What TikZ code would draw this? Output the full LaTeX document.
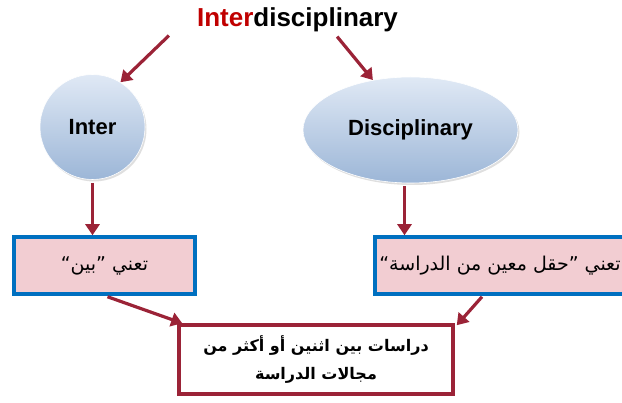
\documentclass[tikz,border=0pt]{standalone}
\usepackage{fontspec}
\setmainfont{Liberation Sans}
\newfontfamily\arabicfont[Script=Arabic]{DejaVu Sans}
\TeXXeTstate=1
\usetikzlibrary{arrows.meta,shapes.geometric,shadows}
\usepackage{xcolor}
\definecolor{arrowred}{RGB}{155,35,55}
\definecolor{interred}{RGB}{192,0,0}
\definecolor{boxblue}{RGB}{0,112,192}
\definecolor{boxpink}{RGB}{242,205,210}
\definecolor{ovaltop}{RGB}{224,233,245}
\definecolor{ovalbottom}{RGB}{156,182,215}

\begin{document}
\begin{tikzpicture}[x=1pt, y=-1pt,
  arr/.style={arrowred, line width=3.2pt, -{Triangle[length=11pt,width=14pt]}},
  oval/.style={top color=ovaltop, bottom color=ovalbottom, draw=white, line width=0.6pt,
    drop shadow={opacity=0.25, shadow xshift=1.5pt, shadow yshift=-2pt},
    font=\fontsize{22}{26}\selectfont\bfseries},
  meaning/.style={draw=boxblue, line width=3.5pt, fill=boxpink, minimum height=57pt,
    font=\arabicfont\fontsize{19}{22}\selectfont},
  resultbox/.style={draw=arrowred, line width=3.5pt, fill=white, minimum width=274pt,
    minimum height=69pt, align=center, drop shadow={opacity=0.15, shadow xshift=1pt, shadow yshift=-1.5pt},
    font=\arabicfont\bfseries\fontsize{16}{28}\selectfont}] % inter + disciplinary
\clip (0,0) rectangle (622,403);
\node[anchor=base, inner sep=0, font=\fontsize{26}{30}\selectfont\bfseries] (title) at (297.5,27)
  {\textcolor{interred}{Inter}disciplinary};
\node[oval, circle, minimum size=105pt] (inter) at (92.5,127) {Inter};
\node[oval, ellipse, minimum width=215pt, minimum height=106pt] (disc) at (410.5,130) {Disciplinary};
\node[meaning, minimum width=181pt] (leftbox) at (104.5,265.5) {\beginR تعني ”بين“\endR};
\node[meaning, minimum width=250pt] (rightbox) at (500,265.5) {\beginR تعني ”حقل معين من الدراسة“\endR};
\node[resultbox] (result) at (316,359.5)
  {\beginR دراسات بين اثنين أو أكثر من\endR\\ \beginR مجالات الدراسة\endR};
\draw[arr] ([shift={(-28,3)}]title.south west) -- (inter.58);
\draw[arr] ([shift={(-61,4)}]title.south east) -- (disc.127);
\draw[arr] ([shift={(0,3)}]inter.south) -- (inter.south |- leftbox.north);
\draw[arr] ([shift={(-6,3)}]disc.south) -- ([xshift=-6pt]disc.south |- rightbox.north);
\draw[arr] ([shift={(3,1)}]leftbox.south) -- ([shift={(5,0)}]result.north west);
\draw[arr] ([shift={(-18,1)}]rightbox.south) -- ([shift={(2,2)}]result.north east);
\end{tikzpicture}
\end{document}
